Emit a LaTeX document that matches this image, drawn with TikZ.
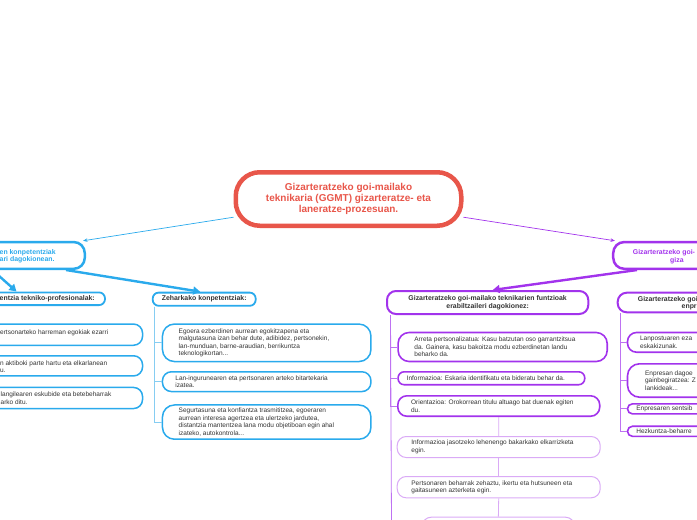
\documentclass[tikz,border=0pt]{standalone}
\usepackage{fontspec}
\setmainfont{Liberation Sans}
\usetikzlibrary{positioning,arrows.meta}

\definecolor{ggred}{HTML}{E8564A}
\definecolor{ggblue}{HTML}{2AAAEC}
\definecolor{ggbluelight}{HTML}{86CDF2}
\definecolor{ggpurple}{HTML}{A233EC}
\definecolor{ggpurplelight}{HTML}{BE72F2}
\definecolor{gglilac}{HTML}{DAAAF6}
\definecolor{ggtext}{HTML}{333333}

\begin{document}
\begin{tikzpicture}[x=1pt,y=-1pt,
	central/.style={draw=ggred,line width=4.5pt,rounded corners=24pt,inner sep=0pt,align=center,
		text=ggred,font=\bfseries\fontsize{10}{11}\selectfont},
	mainbox/.style={line width=2.5pt,rounded corners=11pt,inner sep=0pt},
	headbox/.style={line width=1.8pt,rounded corners=6pt,inner sep=0pt,align=center,text=ggtext,
		font=\bfseries\fontsize{6.9}{7.7}\selectfont},
	leafbox/.style={line width=1.5pt,rounded corners=9pt,inner sep=0pt},
	leaftext/.style={inner sep=0pt,align=left,text=ggtext,font=\fontsize{6.5}{7.65}\selectfont},
	headtext/.style={inner sep=0pt,align=left,font=\bfseries\fontsize{6.9}{7.6}\selectfont},
	thin arrow/.style={line width=0.7pt,-{Stealth[length=4.5pt,width=3.5pt]}},
	thick arrow/.style={line width=2.4pt,-{Triangle[length=7pt,width=8pt]}},
	branch/.style={line width=0.8pt},
	]
	\useasboundingbox (0,0) rectangle (697,520);
	\clip (0,0) rectangle (697,520);

	\node[central,minimum width=225.5pt,minimum height=53.5pt] (ggmt) at (348.5,199)
		{Gizarteratzeko goi-mailako\\teknikaria (GGMT) gizarteratze- eta\\laneratze-prozesuan.};

	% konpetentziak
	\node[mainbox,draw=ggblue,minimum width=184.75pt,minimum height=26.75pt] (konp) at (-7.6,255.4) {};
	\node[headtext,text=ggblue,anchor=west] (konp-t) at (-0.5,256.4) {en konpetentziak\\ari dagokionean.};
	\draw[thin arrow,ggblue] (ggmt.189) -- ([xshift=-3pt]konp.north east);

	\node[headbox,draw=ggblue,minimum width=165pt,minimum height=12.7pt] (tekn) at (22.5,298.75) {};
	\node[headtext,text=ggtext,anchor=west] (tekn-t) at (-0.5,299) {entzia tekniko-profesionalak:};
	\node[headbox,draw=ggblue,minimum width=103pt,minimum height=13.2pt] (zeh) at (204.2,299.2) {Zeharkako konpetentziak:};
	\draw[thick arrow,ggblue] (konp.south) -- ([xshift=-6pt]tekn.north);
	\draw[thick arrow,ggblue] ([xshift=-20pt]konp.south east) -- ([xshift=-4pt]zeh.north);

	\node[leafbox,draw=ggblue,minimum width=202.5pt,minimum height=21.2pt] (tekn1) at (41.3,334.65) {};
	\node[leaftext,anchor=west] (tekn1-t) at (0,332.7) {ertsonarteko harreman egokiak ezarri};
	\node[leafbox,draw=ggblue,minimum width=202.5pt,minimum height=20.2pt] (tekn2) at (41.3,365.85) {};
	\node[leaftext,anchor=west] (tekn2-t) at (0,366.7) {n aktiboki parte hartu eta elkarlanean\\u.};
	\node[leafbox,draw=ggblue,minimum width=202.5pt,minimum height=21.1pt] (tekn3) at (41.3,398) {};
	\node[leaftext,anchor=west] (tekn3-t) at (0.5,398.3) {langilearen eskubide eta betebeharrak\\arko ditu.};

	\node[leafbox,draw=ggblue,minimum width=208.5pt,minimum height=37.5pt,rounded corners=12pt] (zeh1) at (266.7,342.8) {};
	\node[leaftext,right=16.8pt of zeh1.west] (zeh1-t) {Egoera ezberdinen aurrean egokitzapena eta\\malgutasuna izan behar dute, adibidez, pertsonekin,\\lan-munduan, barne-araudian, berrikuntza\\teknologikortan...};
	\node[leafbox,draw=ggblue,minimum width=208.5pt,minimum height=19.8pt] (zeh2) at (266.7,381.65) {};
	\node[leaftext,right=13.5pt of zeh2.west] (zeh2-t) {Lan-ingurunearen eta pertsonaren arteko bitartekaria\\izatea.};
	\node[leafbox,draw=ggblue,minimum width=208.5pt,minimum height=34.25pt,rounded corners=12pt] (zeh3) at (266.7,422.1) {};
	\node[leaftext,right=16.8pt of zeh3.west] (zeh3-t) {Segurtasuna eta konfiantza trasmititzea, egoeraren\\aurrean interesa agertzea eta ulertzeko jardutea,\\distantzia mantentzea lana modu objetiboan egin ahal\\izateko, autokontrola...};
	\foreach \i in {1,2,3}
		\draw[branch,ggbluelight] ([xshift=3pt]zeh.south west) |- (zeh\i.west);

	% funtzioak
	\node[mainbox,draw=ggpurple,minimum width=186.75pt,minimum height=26.75pt] (gizp) at (706.6,255.4) {};
	\node[headtext,text=ggpurple,anchor=west] (gizp-t1) at (632.7,252.3) {Gizarteratzeko goi-};
	\node[headtext,text=ggpurple,anchor=west] (gizp-t2) at (670,260.5) {giza};
	\draw[thin arrow,ggpurple] (ggmt.351) -- ([xshift=3pt]gizp.north west);

	\node[headbox,draw=ggpurple,line width=2pt,minimum width=201.3pt,minimum height=23pt,rounded corners=9pt] (funtz) at (487.65,302.5) {Gizarteratzeko goi-mailako teknikarien funtzioak\\erabiltzaileri dagokionez:};
	\draw[thick arrow,ggpurple] ([xshift=25pt]gizp.south west) -- ([xshift=5pt]funtz.north);

	\node[leafbox,draw=ggpurple,line width=1.6pt,minimum width=209.1pt,minimum height=29pt,rounded corners=11pt] (funtz1) at (502.65,347) {};
	\node[leaftext,right=16.9pt of funtz1.west] (funtz1-t) {Arreta pertsonalizatua: Kasu batzutan oso garrantzitsua\\da. Gainera, kasu bakoitza modu ezberdinetan landu\\beharko da.};
	\node[leafbox,draw=ggpurple,line width=1.6pt,minimum width=186.6pt,minimum height=12.9pt,rounded corners=6pt] (funtz2) at (491.4,378.25) {};
	\node[leaftext,right=9.2pt of funtz2.west] (funtz2-t) {Informazioa: Eskaria identifikatu eta bideratu behar da.};
	\node[leafbox,draw=ggpurple,line width=1.6pt,minimum width=201.9pt,minimum height=20.4pt] (funtz3) at (498.75,406) {};
	\node[leaftext,right=13.9pt of funtz3.west] (funtz3-t) {Orientazioa: Orokorrean titulu altuago bat duenak egiten\\du.};
	\node[leafbox,draw=gglilac,line width=1pt,minimum width=203pt,minimum height=21pt] (funtz4) at (498.7,447) {};
	\node[leaftext,right=14.5pt of funtz4.west] (funtz4-t) {Informazioa jasotzeko lehenengo bakarkako elkarrizketa\\egin.};
	\node[leafbox,draw=gglilac,line width=1pt,minimum width=203pt,minimum height=21.3pt] (funtz5) at (498.7,487.15) {};
	\node[leaftext,right=14.5pt of funtz5.west] (funtz5-t) {Pertsonaren beharrak zehaztu, ikertu eta hutsuneen eta\\gaitasuneen azterketa egin.};
	\node[leafbox,draw=gglilac,line width=1pt,minimum width=152.3pt,minimum height=24pt] (funtz6) at (498.35,529.2) {};
	\coordinate (funtz-end) at (391.5,525);
	\draw[branch,ggpurplelight] ([xshift=4.5pt]funtz.south west) -- (funtz-end);
	\foreach \i in {1,2,3}
		\draw[branch,ggpurplelight] ([xshift=4.5pt]funtz.south west) |- (funtz\i.west);
	\draw[branch,gglilac] (funtz3.south) -- (funtz4.north);
	\draw[branch,gglilac] (funtz4.south) -- (funtz5.north);
	\draw[branch,gglilac] (funtz5.south) -- (funtz6.north);

	% enpresa
	\node[headbox,draw=ggpurple,line width=2pt,minimum width=182.3pt,minimum height=19.6pt,rounded corners=9pt] (enpr) at (708.85,302.5) {};
	\node[headtext,text=ggtext,anchor=west] (enpr-t1) at (637.7,299.5) {Gizarteratzeko goi};
	\node[headtext,text=ggtext,anchor=west] (enpr-t2) at (681.5,307.3) {enpr};

	\node[leafbox,draw=ggpurple,line width=1.6pt,minimum width=172.5pt,minimum height=19.7pt] (enpr1) at (713.75,342.35) {};
	\node[leaftext,right=13.2pt of enpr1.west] (enpr1-t) {Lanpostuaren eza\\eskakizunak.};
	\node[leafbox,draw=ggpurple,line width=1.6pt,minimum width=172.5pt,minimum height=33.4pt,rounded corners=12pt] (enpr2) at (713.75,380.5) {};
	\node[leaftext,right=18.2pt of enpr2.west] (enpr2-t) {Enpresan dagoe\\gainbegiratzea: Z\\lankideak...};
	\node[leafbox,draw=ggpurple,line width=1.6pt,minimum width=172.5pt,minimum height=10.1pt,rounded corners=5pt] (enpr3) at (713.75,408.85) {};
	\node[leaftext,right=9.5pt of enpr3.west] (enpr3-t) {Enpresaren sentsib};
	\node[leafbox,draw=ggpurple,line width=1.6pt,minimum width=172.5pt,minimum height=10.1pt,rounded corners=5pt] (enpr4) at (713.75,431.3) {};
	\node[leaftext,right=9.5pt of enpr4.west] (enpr4-t) {Hezkuntza-beharre};
	\foreach \i in {1,2,3,4}
		\draw[branch,ggpurplelight] ([xshift=4pt]enpr.south west) |- (enpr\i.west);
\end{tikzpicture}
\end{document}
